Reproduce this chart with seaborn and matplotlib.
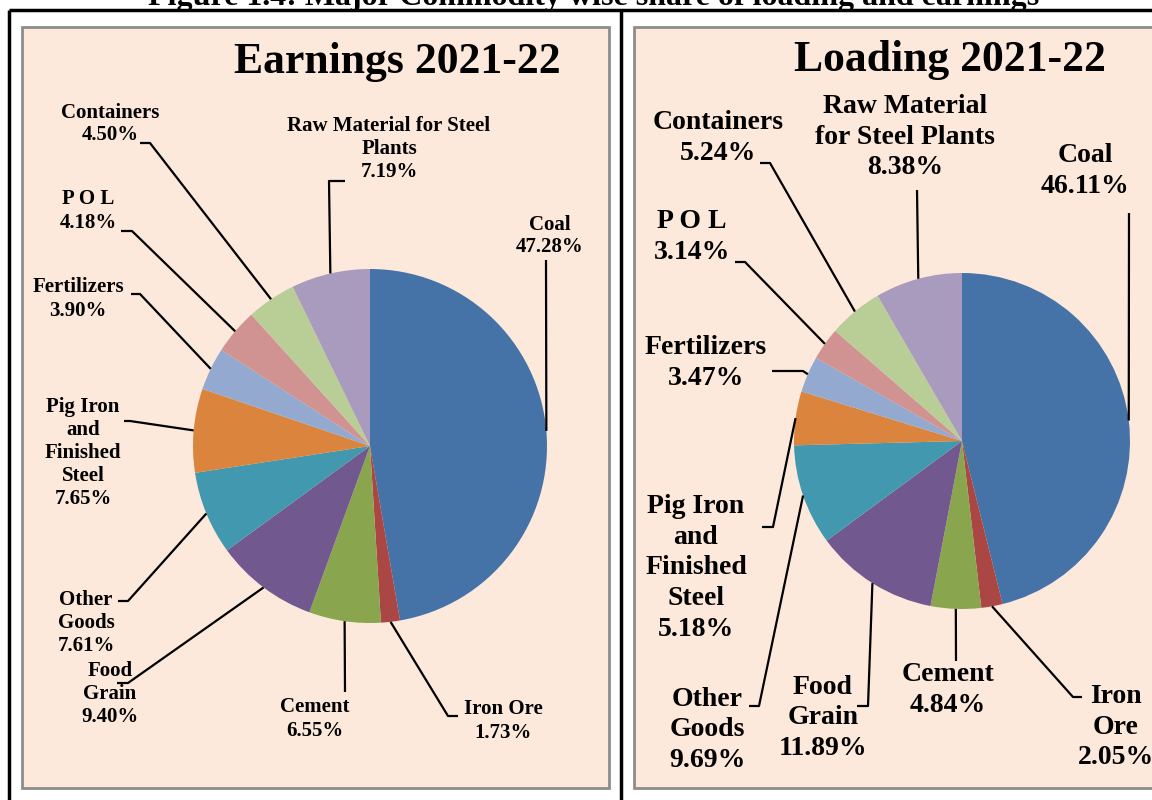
import matplotlib
matplotlib.use("Agg")
import matplotlib.pyplot as plt
import seaborn as sns
import numpy as np
from matplotlib.patches import Rectangle

# ---------------- data ----------------
commodities = ["Coal", "Iron Ore", "Cement", "Food Grain", "Other Goods",
               "Pig Iron and Finished Steel", "Fertilizers", "P O L",
               "Containers", "Raw Material for Steel Plants"]
earnings_share = [47.28, 1.73, 6.55, 9.40, 7.61, 7.65, 3.90, 4.18, 4.50, 7.19]
loading_share = [46.11, 2.05, 4.84, 11.89, 9.69, 5.18, 3.47, 3.14, 5.24, 8.38]

earnings_labels = ["Coal", "Iron Ore", "Cement", "Food\nGrain", "Other\nGoods",
                   "Pig Iron\nand\nFinished\nSteel", "Fertilizers", "P O L",
                   "Containers", "Raw Material for Steel\nPlants"]
loading_labels = ["Coal", "Iron\nOre", "Cement", "Food\nGrain", "Other\nGoods",
                  "Pig Iron\nand\nFinished\nSteel", "Fertilizers", "P O L",
                  "Containers", "Raw Material\nfor Steel Plants"]

palette = ["#4572A7", "#AA4643", "#89A54E", "#71588F", "#4198AF",
           "#DB843D", "#93A9CF", "#D19392", "#B9CD96", "#A99BBD"]

# ---------------- layout (image pixel coords, y downward) ----------------
W, H = 1152, 800
earn_center, earn_r = (370, 446), 177
load_center, load_r = (962, 441), 168

# text centre and extra leader points (after the wedge edge point)
earn_layout = [
    ((550, 236), [(546, 260)]),
    ((503, 721), [(448, 716), (458, 716)]),
    ((315, 719), [(345, 692)]),
    ((110, 694), [(128, 683), (117, 683)]),
    ((86, 623), [(128, 601), (118, 601)]),
    ((83, 453), [(130, 421), (124, 421)]),
    ((78, 299), [(140, 294), (131, 294)]),
    ((88, 211), [(132, 231), (121, 231)]),
    ((110, 124), [(150, 143), (140, 143)]),
    ((389, 149), [(329, 181), (345, 181)]),
]
load_layout = [
    ((1085, 171), [(1129, 213)]),
    ((1116, 727), [(1073, 697), (1082, 697)]),
    ((948, 690), [(956, 661)]),
    ((823, 718), [(868, 706), (857, 706)]),
    ((707, 730), [(759, 706), (749, 706)]),
    ((696, 568), [(773, 527), (762, 527)]),
    ((706, 363), [(803, 371), (772, 371)]),
    ((692, 237), [(745, 262), (735, 262)]),
    ((718, 138), [(770, 163), (760, 163)]),
    ((905, 137), [(917, 190)]),
]

sns.set_theme(style="white")
plt.rcParams["font.family"] = ["Liberation Serif", "DejaVu Serif"]

fig = plt.figure(figsize=(W / 100, H / 100), dpi=100)
fig.patch.set_facecolor("white")
ax = fig.add_axes([0, 0, 1, 1])


def Y(y):
    return H - y


# outer frame
ax.plot([9, 9], [Y(800), Y(10)], color="black", lw=2.5, solid_capstyle="butt")
ax.plot([9, 1152], [Y(10), Y(10)], color="black", lw=2.5, solid_capstyle="butt")
ax.plot([621, 621], [Y(800), Y(10)], color="black", lw=2.5, solid_capstyle="butt")

# panel boxes
for x0, x1 in [(22, 609), (634, 1160)]:
    ax.add_patch(Rectangle((x0, Y(788)), x1 - x0, 788 - 27,
                           facecolor="#FDE9DB", edgecolor="#8C8C8C", lw=2, zorder=1))

# figure caption (cut at top edge, as in the source)
ax.text(594, Y(5), "Figure 1.4: Major Commodity wise share of loading and earnings",
        ha="center", va="baseline", fontsize=23, fontweight="bold", color="black")


def draw_pie(values, labels, center, r, layout, fsize, lsp, title, title_xy):
    cx, cy = center
    wedges, _ = ax.pie(values, colors=palette, startangle=90, counterclock=False,
                       center=(cx, Y(cy)), radius=r,
                       wedgeprops=dict(linewidth=0))
    for w in wedges:
        w.set_zorder(3)
    for w, lab, val, ((tx, ty), pts) in zip(wedges, labels, values, layout):
        mid = np.deg2rad((w.theta1 + w.theta2) / 2)
        ex, ey = cx + r * np.cos(mid), Y(cy) + r * np.sin(mid)
        xs = [ex] + [p[0] for p in pts]
        ys = [ey] + [Y(p[1]) for p in pts]
        ax.plot(xs, ys, color="black", lw=1.6, zorder=4, solid_capstyle="butt")
        ax.text(tx, Y(ty), f"{lab}\n{val:.2f}%", ha="center", va="center",
                fontsize=fsize, fontweight="bold", color="black",
                linespacing=lsp, zorder=5)
    ax.text(title_xy[0], Y(title_xy[1]), title, ha="center", va="center",
            fontsize=31.5, fontweight="bold", color="black", zorder=5)


draw_pie(earnings_share, earnings_labels, earn_center, earn_r, earn_layout, 15, 1.2,
         "Earnings 2021-22", (397, 62))
draw_pie(loading_share, loading_labels, load_center, load_r, load_layout, 20, 1.3,
         "Loading 2021-22", (950, 60))

ax.set_xlim(0, W)
ax.set_ylim(0, H)
ax.set_aspect("auto")
ax.axis("off")

fig.savefig("out.png", dpi=100, facecolor="white")
